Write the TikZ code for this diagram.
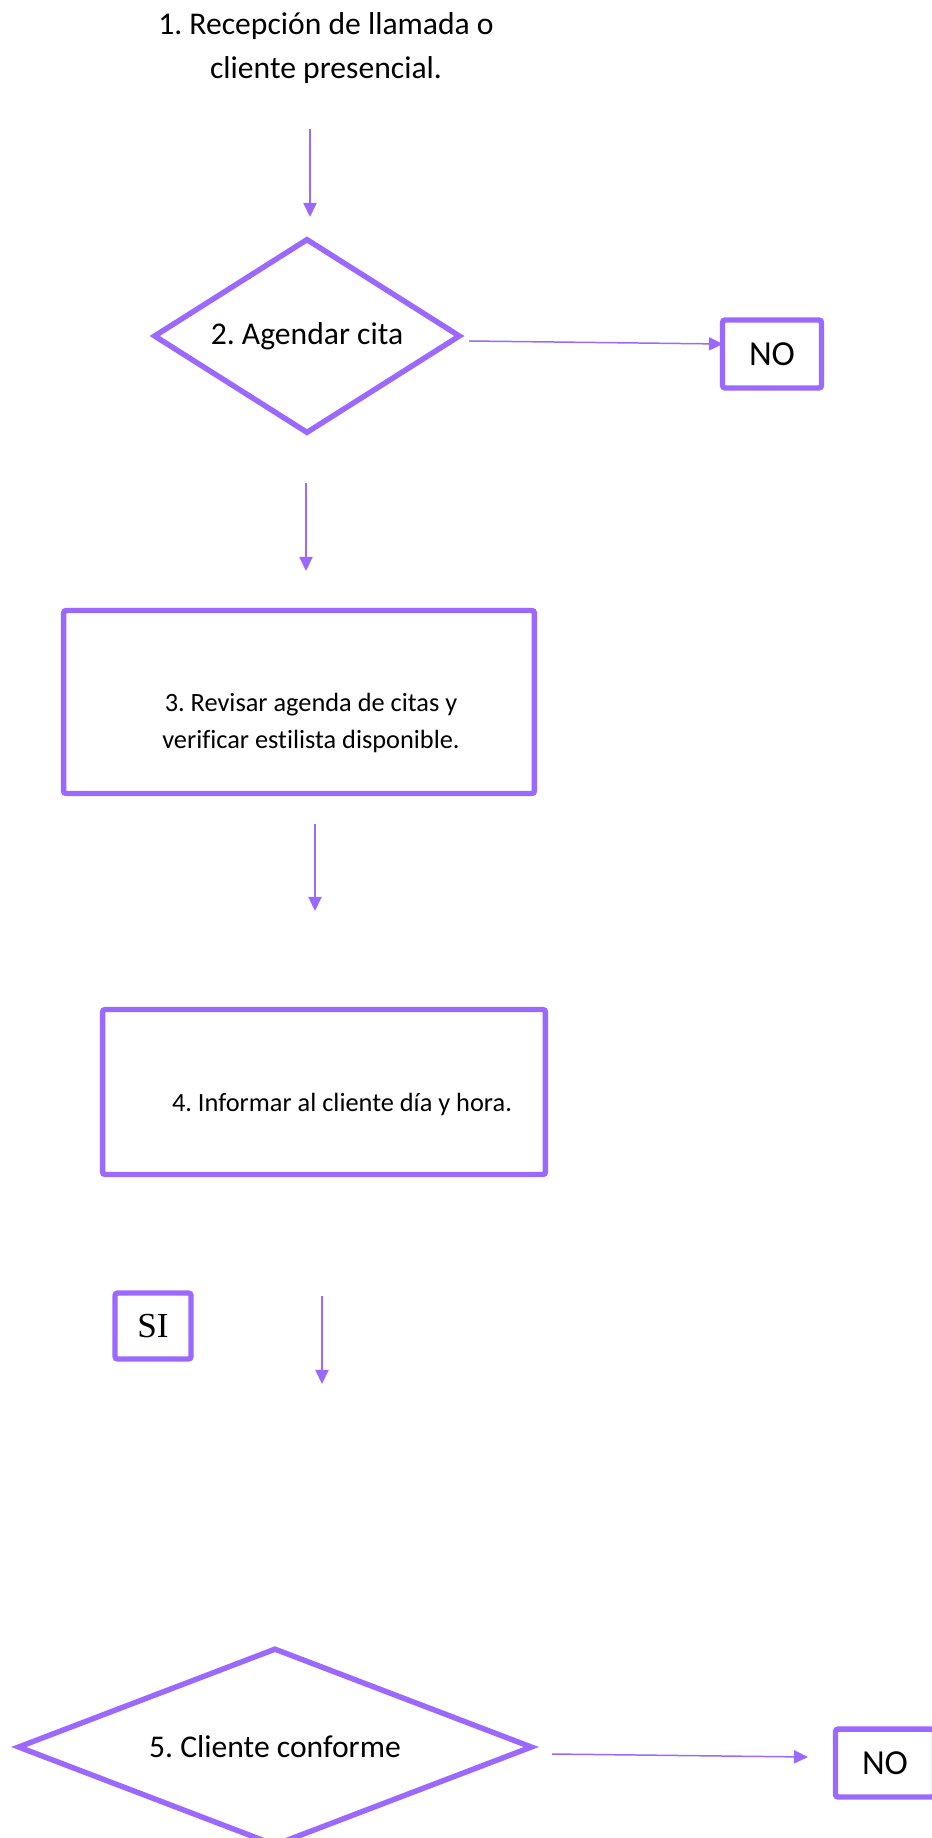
\documentclass[tikz,border=0pt]{standalone}
\usepackage{fontspec}
\setmainfont{Carlito}[Ligatures=NoCommon]
\newfontfamily\timesfont{Liberation Serif}
\usepackage{tikz}
\usetikzlibrary{arrows.meta, positioning, calc, shapes.geometric}

\definecolor{lila}{RGB}{155,105,255}
\frenchspacing

\begin{document}
\begin{tikzpicture}[x=0.02cm, y=-0.02cm,
    caja/.style={draw=lila, line width=3.1pt, rounded corners=1.5pt, inner sep=0pt},
    rombo/.style={diamond, draw=lila, line width=3.1pt, inner sep=0pt},
    flecha/.style={draw=lila, line width=0.85pt, -{Triangle[length=8pt, width=7.5pt]}}]
    \useasboundingbox (0,0) rectangle (931,1838);

    \node[align=center, font=\fontsize{18}{25}\selectfont] (paso1) at (326,48)
        {1. Recepción de llamada o\\cliente presencial.};

    \node[rombo, shape aspect=1.57, minimum width=6.14cm, minimum height=3.9cm,
          font=\fontsize{18}{22}\selectfont] (paso2) at (307,336) {2. Agendar cita};
    \node[caja, minimum width=1.98cm, minimum height=1.36cm,
          font=\fontsize{20}{24}\selectfont] (no1) at (772,354) {NO};

    \node[caja, minimum width=9.42cm, minimum height=3.66cm] (paso3) at (299,702) {};
    \node[align=center, font=\fontsize{15}{21}\selectfont] (texto3) at (311,723)
        {3. Revisar agenda de citas y\\verificar estilista disponible.};

    \node[caja, minimum width=8.86cm, minimum height=3.3cm] (paso4) at (324,1092) {};
    \node[font=\fontsize{15}{21}\selectfont] (texto4) at (342,1104)
        {4. Informar al cliente día y hora.};

    \node[caja, minimum width=1.52cm, minimum height=1.32cm,
          font=\timesfont\fontsize{20}{24}\selectfont] (si) at (153,1326) {SI};

    \node[rombo, shape aspect=2.62, minimum width=10.3cm, minimum height=3.96cm,
          font=\fontsize{18}{22}\selectfont] (paso5) at (275,1747) {5. Cliente conforme};
    \node[caja, minimum width=1.98cm, minimum height=1.36cm,
          font=\fontsize{20}{24}\selectfont] (no2) at (885,1763) {NO};

    % flechas sueltas
    \coordinate (f1a) at (310,129);  \coordinate (f1b) at (310,217);
    \coordinate (f2a) at (469,341);  \coordinate (f2b) at (723,344);
    \coordinate (f3a) at (306,483);  \coordinate (f3b) at (306,571);
    \coordinate (f4a) at (315,824);  \coordinate (f4b) at (315,911);
    \coordinate (f5a) at (322,1296); \coordinate (f5b) at (322,1384);
    \coordinate (f6a) at (552,1754); \coordinate (f6b) at (808,1757);

    \draw[flecha] (f1a) -- (f1b);
    \draw[flecha] (f2a) -- (f2b);
    \draw[flecha] (f3a) -- (f3b);
    \draw[flecha] (f4a) -- (f4b);
    \draw[flecha] (f5a) -- (f5b);
    \draw[flecha] (f6a) -- (f6b);
\end{tikzpicture}
\end{document}
